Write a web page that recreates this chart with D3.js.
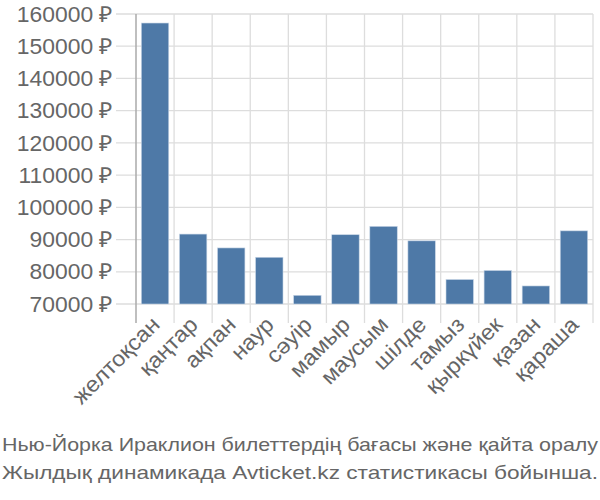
<!DOCTYPE html>
<html><head><meta charset="utf-8">
<script src="https://cdn.jsdelivr.net/npm/d3@7"></script>
<style>body{margin:0;background:#fff}svg{display:block}</style>
</head><body>
<svg id="c" width="600" height="500"></svg>
<script>
const months = ["желтоқсан","қаңтар","ақпан","наур","сәуір","мамыр","маусым","шілде","тамыз","қыркүйек","қазан","қараша"];
const prices = [157200,91700,87400,84500,72700,91500,94100,89600,77600,80400,75600,92700];
const yTicks = [70000,80000,90000,100000,110000,120000,130000,140000,150000,160000];
const titleLines = ["Нью-Йорка Ираклион билеттердің бағасы және қайта оралу","Жылдық динамикада Avticket.kz статистикасы бойынша."];

const svg = d3.select("#c");
const L = 136, R = 593, T = 14, B = 304;
const x = d3.scaleBand().domain(months).range([L, R]).paddingInner(0.28).paddingOuter(0.14);
const xg = d3.scaleBand().domain(months).range([L, R]);
const y = d3.scaleLinear().domain([70000, 160000]).range([B, T]);
const font = "'Liberation Sans', Arial, sans-serif";

function stretch(sel, factor) {
  sel.each(function() {
    const len = this.getComputedTextLength();
    d3.select(this).attr("textLength", len * factor).attr("lengthAdjust", "spacingAndGlyphs");
  });
}

// horizontal grid
svg.append("g").selectAll("line").data(yTicks).join("line")
  .attr("x1", L - 20).attr("x2", R).attr("y1", d => y(d)).attr("y2", d => y(d))
  .attr("stroke", "#ddd").attr("stroke-width", 1.3);
// vertical grid
const vx = months.map(m => xg(m) + xg.bandwidth());
svg.append("g").selectAll("line").data(vx).join("line")
  .attr("x1", d => d).attr("x2", d => d).attr("y1", T).attr("y2", B + 19)
  .attr("stroke", "#ddd").attr("stroke-width", 1.3);

// bars
svg.append("g").selectAll("rect").data(months).join("rect")
  .attr("x", d => x(d)).attr("width", x.bandwidth())
  .attr("y", (d,i) => y(prices[i])).attr("height", (d,i) => B - y(prices[i]))
  .attr("fill", "#4e79a7").attr("stroke", "#c8d6e6").attr("stroke-width", 0.6);

// y axis line
svg.append("line").attr("x1", L).attr("x2", L).attr("y1", T).attr("y2", B + 19)
  .attr("stroke", "#aaa").attr("stroke-width", 1.5);

// y labels
svg.append("g").selectAll("text").data(yTicks).join("text")
  .attr("x", 113).attr("y", d => y(d)).attr("dy", "0.35em")
  .attr("text-anchor", "end").attr("fill", "#666")
  .style("font-family", font).style("font-size", "22px")
  .text(d => d + " ₽")
  .call(stretch, 1.04);

// x labels
svg.append("g").selectAll("text").data(months).join("text")
  .attr("transform", d => `translate(${xg(d) + xg.bandwidth()/2 + 6},${B + 22}) rotate(-45)`)
  .attr("text-anchor", "end").attr("fill", "#666")
  .style("font-family", font).style("font-size", "22px")
  .text(d => d)
  .call(stretch, 1.06);

// title
svg.append("g").selectAll("text").data(titleLines).join("text")
  .attr("x", 2).attr("y", (d,i) => 451 + i * 27.5)
  .attr("fill", "#666").style("font-family", font).style("font-size", "18.6px")
  .attr("textLength", 596).attr("lengthAdjust", "spacingAndGlyphs")
  .text(d => d);
</script>
</body></html>
